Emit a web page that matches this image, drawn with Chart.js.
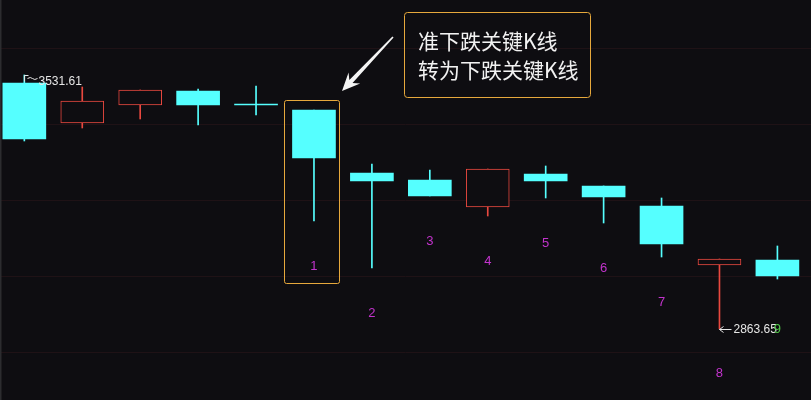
<!DOCTYPE html>
<html>
<head>
<meta charset="utf-8">
<script src="https://cdn.jsdelivr.net/npm/chart.js@4.4.1/dist/chart.umd.min.js"></script>
<style>
  html, body { margin: 0; padding: 0; background: #0e0d11; }
  #wrap { width: 811px; height: 400px; }
</style>
</head>
<body>
<div id="wrap"><canvas id="kChart"></canvas></div>
<script>
// candle index on the x axis
var candleIdx = [0, 1, 2, 3, 4, 5, 6, 7, 8, 9, 10, 11, 12, 13];
// prices
var openV  = [3510.5, 3405.3, 3452.6, 3489.5, 3452.6, 3439.5, 3273.7, 3255.3, 3184.2, 3271.1, 3239.5, 3186.8, 3031.6, 3044.7];
var closeV = [3363.2, 3463.2, 3492.1, 3452.6, 3452.6, 3313.2, 3252.6, 3213.2, 3284.2, 3252.6, 3210.5, 3086.8, 3047.4, 3002.6];
var highV  = [3531.61, 3500.0, 3492.1, 3494.7, 3502.6, 3439.5, 3297.4, 3281.6, 3284.2, 3292.1, 3239.5, 3207.9, 3047.4, 3081.6];
var lowV   = [3357.9, 3392.1, 3415.8, 3400.0, 3426.3, 3147.4, 3023.7, 3213.2, 3160.5, 3207.9, 3142.1, 3052.6, 2863.65, 2994.7];
// counting marks under the candles
var markIdx  = [5, 6, 7, 8, 9, 10, 11, 12, 13];
var markText = ['1', '2', '3', '4', '5', '6', '7', '8', '9'];
// horizontal grid levels
var gridLevels = [2800, 3000, 3200, 3400, 3600];
// callout text
var noteLines = ['准下跌关键K线', '转为下跌关键K线'];
var keyIdx = 5;

var BG = '#0e0d11';
var UP = '#e8483f';
var DOWN = '#55ffff';

var ctx = document.getElementById('kChart').getContext('2d');

function isUp(i) { return closeV[i] > openV[i]; }

var bodyData = candleIdx.map(function(i) { return { x: i, y: [openV[i], closeV[i]] }; });
var wickData = candleIdx.map(function(i) { return { x: i, y: [lowV[i], highV[i]] }; });

var overlay = {
    id: 'overlay',
    beforeDraw: function(chart) {
        var c = chart.ctx;
        c.save();
        c.fillStyle = BG;
        c.fillRect(0, 0, chart.width, chart.height);
        c.restore();
    },
    afterDraw: function(chart) {
        var c = chart.ctx;
        var xs = chart.scales.x, ys = chart.scales.y;
        c.save();

        // left edge line
        c.fillStyle = '#2c2c2f';
        c.fillRect(0, 0, 1.5, chart.height);

        // highest point marker
        var hx = Math.round(xs.getPixelForValue(0)) + 0.5;
        var hy = Math.round(ys.getPixelForValue(highV[0])) + 0.5;
        c.strokeStyle = '#e6e6e6';
        c.lineWidth = 1;
        c.beginPath();
        c.moveTo(hx, hy + 6);
        c.lineTo(hx, hy);
        c.lineTo(hx + 4, hy);
        c.moveTo(hx + 3, hy + 3);
        c.quadraticCurveTo(hx + 6, hy + 1, hx + 8, hy + 3);
        c.quadraticCurveTo(hx + 10, hy + 5, hx + 13, hy + 3);
        c.stroke();
        c.fillStyle = '#e6e6e6';
        c.font = '12px "Liberation Sans", Arial, sans-serif';
        c.textBaseline = 'middle';
        c.textAlign = 'left';
        c.fillText(highV[0].toFixed(2), hx + 14, hy + 6);

        // lowest point marker
        var minI = lowV.indexOf(Math.min.apply(null, lowV));
        var lx = Math.round(xs.getPixelForValue(minI)) + 0.5;
        var ly = Math.round(ys.getPixelForValue(lowV[minI])) + 0.5;
        c.beginPath();
        c.moveTo(lx, ly);
        c.lineTo(lx + 12, ly);
        c.moveTo(lx + 4, ly - 3);
        c.lineTo(lx, ly);
        c.lineTo(lx + 4, ly + 3);
        c.stroke();
        c.fillText(lowV[minI].toFixed(2), lx + 14, ly);

        // counting marks
        c.font = '13px "Liberation Sans", Arial, sans-serif';
        c.textAlign = 'center';
        markIdx.forEach(function(i, k) {
            var last = k === markIdx.length - 1;
            c.fillStyle = last ? '#4fc846' : '#c233cc';
            var mx = xs.getPixelForValue(i);
            var my = last ? ly : ys.getPixelForValue(lowV[i]) + 45;
            c.fillText(markText[k], mx, my);
        });

        // frame around the key candle
        var kx = xs.getPixelForValue(keyIdx);
        var top = ys.getPixelForValue(highV[keyIdx]) - 10;
        var bot = ys.getPixelForValue(lowV[keyIdx]) + 62;
        c.strokeStyle = '#e6a83c';
        c.lineWidth = 1;
        c.beginPath();
        c.roundRect(Math.round(kx - 30) + 0.5, Math.round(top) + 0.5, 55, Math.round(bot - top), 2);
        c.stroke();

        // callout box
        c.beginPath();
        c.roundRect(404.5, 12.5, 186, 85, 3);
        c.stroke();
        c.fillStyle = '#f2f2f2';
        c.font = '21px "Noto Sans CJK SC", sans-serif';
        c.textAlign = 'left';
        c.textBaseline = 'middle';
        c.fillText(noteLines[0], 418, 41);
        c.fillText(noteLines[1], 418, 70);

        // pointer arrow
        var sx = 393, sy = 37, tx = 342, ty = 91;
        var dx = tx - sx, dy = ty - sy, len = Math.sqrt(dx * dx + dy * dy);
        var ux = dx / len, uy = dy / len, px = -uy, py = ux;
        var hl = 18, hw = 8;
        var bx = tx - ux * hl, by = ty - uy * hl;
        var nx = tx - ux * (hl - 5), ny = ty - uy * (hl - 5);
        c.fillStyle = '#f4f4f4';
        c.beginPath();
        c.moveTo(sx + px * 0.8, sy + py * 0.8);
        c.lineTo(nx + px * 2.2, ny + py * 2.2);
        c.lineTo(bx + px * hw, by + py * hw);
        c.lineTo(tx, ty);
        c.lineTo(bx - px * hw, by - py * hw);
        c.lineTo(nx - px * 2.2, ny - py * 2.2);
        c.lineTo(sx - px * 0.8, sy - py * 0.8);
        c.closePath();
        c.fill();

        c.restore();
    }
};

var chart = new Chart(ctx, {
    type: 'bar',
    data: {
        datasets: [{
            label: 'body',
            data: bodyData,
            order: 1,
            barThickness: 43,
            minBarLength: 1,
            borderSkipped: false,
            borderWidth: candleIdx.map(function(i) { return isUp(i) ? 1 : 0; }),
            borderColor: candleIdx.map(function(i) { return isUp(i) ? UP : DOWN; }),
            backgroundColor: candleIdx.map(function(i) { return isUp(i) ? BG : DOWN; })
        }, {
            label: 'wick',
            data: wickData,
            order: 2,
            barThickness: 1,
            borderWidth: 0,
            backgroundColor: candleIdx.map(function(i) { return isUp(i) ? UP : DOWN; })
        }]
    },
    options: {
        responsive: true,
        maintainAspectRatio: false,
        animation: false,
        layout: { padding: 0 },
        plugins: { legend: { display: false }, tooltip: { enabled: false } },
        datasets: { bar: { grouped: false } },
        scales: {
            x: {
                type: 'linear',
                display: false,
                offset: false,
                min: -0.42,
                max: 13.58
            },
            y: {
                type: 'linear',
                min: 2676.3,
                max: 3728.9,
                beginAtZero: false,
                border: { display: false },
                ticks: { display: false },
                grid: { color: '#1f1216', drawTicks: false, lineWidth: 1 },
                afterBuildTicks: function(scale) {
                    scale.ticks = gridLevels.map(function(v) { return { value: v }; });
                }
            }
        }
    },
    plugins: [overlay]
});
</script>
</body>
</html>
